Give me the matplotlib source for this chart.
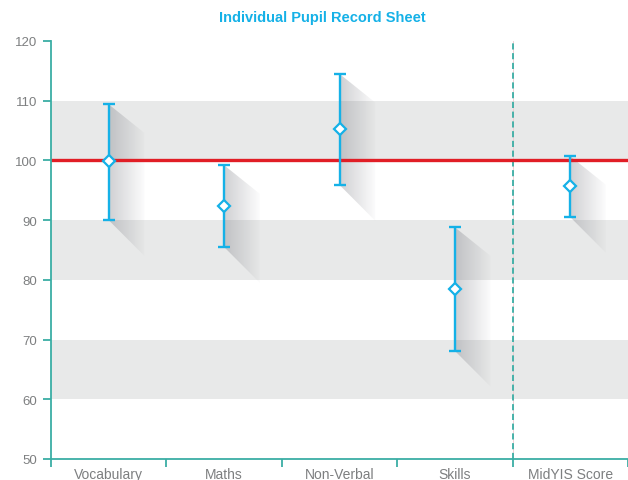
"""Individual Pupil Record Sheet 차트 재현 스크립트."""

import matplotlib

matplotlib.use("Agg")

import matplotlib.pyplot as plt
import numpy as np
from matplotlib.patches import Polygon

# 데이터
categories = ["Vocabulary", "Maths", "Non-Verbal", "Skills", "MidYIS Score"]
scores = [99.9, 92.4, 105.2, 78.5, 95.7]
upper = [109.4, 99.2, 114.5, 88.8, 100.7]
lower = [90.0, 85.5, 95.9, 68.1, 90.5]
band_ranges = [(60, 70), (80, 90), (100, 110)]
y_ticks = [50, 60, 70, 80, 90, 100, 110, 120]
reference_level = 100

TEAL = "#3aaea5"
CYAN = "#15b1e7"
RED = "#e11e26"
GRAY_TEXT = "#7d7f80"
BAND = "#e8e9e9"


def draw_shadow(ax, x, lo, hi):
    # 오른쪽 아래로 떨어지는 그라데이션 그림자
    dx, dy_top, dy_bot = 0.31, 4.8, 6.0
    verts = [(x, hi), (x + dx, hi - dy_top), (x + dx, lo - dy_bot), (x, lo)]
    poly = Polygon(verts, closed=True, facecolor="none", edgecolor="none")
    ax.add_patch(poly)
    grad = np.zeros((2, 64, 4))
    grad[..., :3] = (0.42, 0.43, 0.46)
    grad[..., 3] = np.linspace(0.32, 0.02, 64)[None, :]
    img = ax.imshow(
        grad,
        extent=(x, x + dx, lo - dy_bot, hi),
        aspect="auto",
        origin="lower",
        zorder=1.5,
        interpolation="bilinear",
    )
    img.set_clip_path(poly)


def main():
    plt.rcParams["font.family"] = ["Liberation Sans", "DejaVu Sans"]
    fig = plt.figure(figsize=(6.28, 4.81), dpi=100)
    ax = fig.add_axes([51 / 628, 1 - 460 / 481, 577 / 628, 418 / 481])

    xs = np.arange(len(categories)) + 0.5

    for lo, hi in band_ranges:
        ax.axhspan(lo, hi, color=BAND, zorder=0, lw=0)

    for x, lo, hi in zip(xs, lower, upper):
        draw_shadow(ax, x, lo, hi)

    ax.axhline(reference_level, color=RED, lw=2.4, zorder=2)
    ax.axvline(4, color="#f0c8cc", lw=0.6, zorder=1.8)
    ax.axvline(4, color=TEAL, lw=1.3, ls=(0, (3.4, 2.0)), zorder=1.9)

    yerr = [np.array(scores) - np.array(lower), np.array(upper) - np.array(scores)]
    ax.errorbar(
        xs, scores, yerr=yerr, fmt="none", ecolor=CYAN,
        elinewidth=1.7, capsize=4, capthick=1.7, zorder=3,
    )
    ax.plot(
        xs, scores, ls="none", marker="D", markersize=6.5,
        markerfacecolor="white", markeredgecolor=CYAN, markeredgewidth=1.6, zorder=4,
    )

    ax.set_xlim(0, len(categories))
    ax.set_ylim(50, 120)
    ax.set_yticks(y_ticks)
    ax.set_xticks(np.arange(len(categories) + 1))
    ax.set_xticklabels([])
    ax.set_xticks(xs, minor=True)
    ax.set_xticklabels(categories, minor=True)

    for side in ("top", "right"):
        ax.spines[side].set_visible(False)
    for side in ("left", "bottom"):
        ax.spines[side].set_color(TEAL)
        ax.spines[side].set_linewidth(1.3)
        ax.spines[side].set_zorder(5)

    ax.tick_params(axis="y", direction="out", length=6, width=1.3, color=TEAL,
                   labelcolor=GRAY_TEXT, labelsize=9.5, pad=4)
    ax.tick_params(axis="x", which="major", direction="out", length=6, width=1.3, color=TEAL)
    ax.tick_params(axis="x", which="minor", length=0, labelcolor=GRAY_TEXT,
                   labelsize=10, pad=6)

    fig.text(322 / 628, 1 - 18 / 481, "Individual Pupil Record Sheet", color=CYAN,
             fontsize=10.5, fontweight="bold", ha="center", va="center")

    fig.savefig("out.png", dpi=100)


if __name__ == "__main__":
    main()
